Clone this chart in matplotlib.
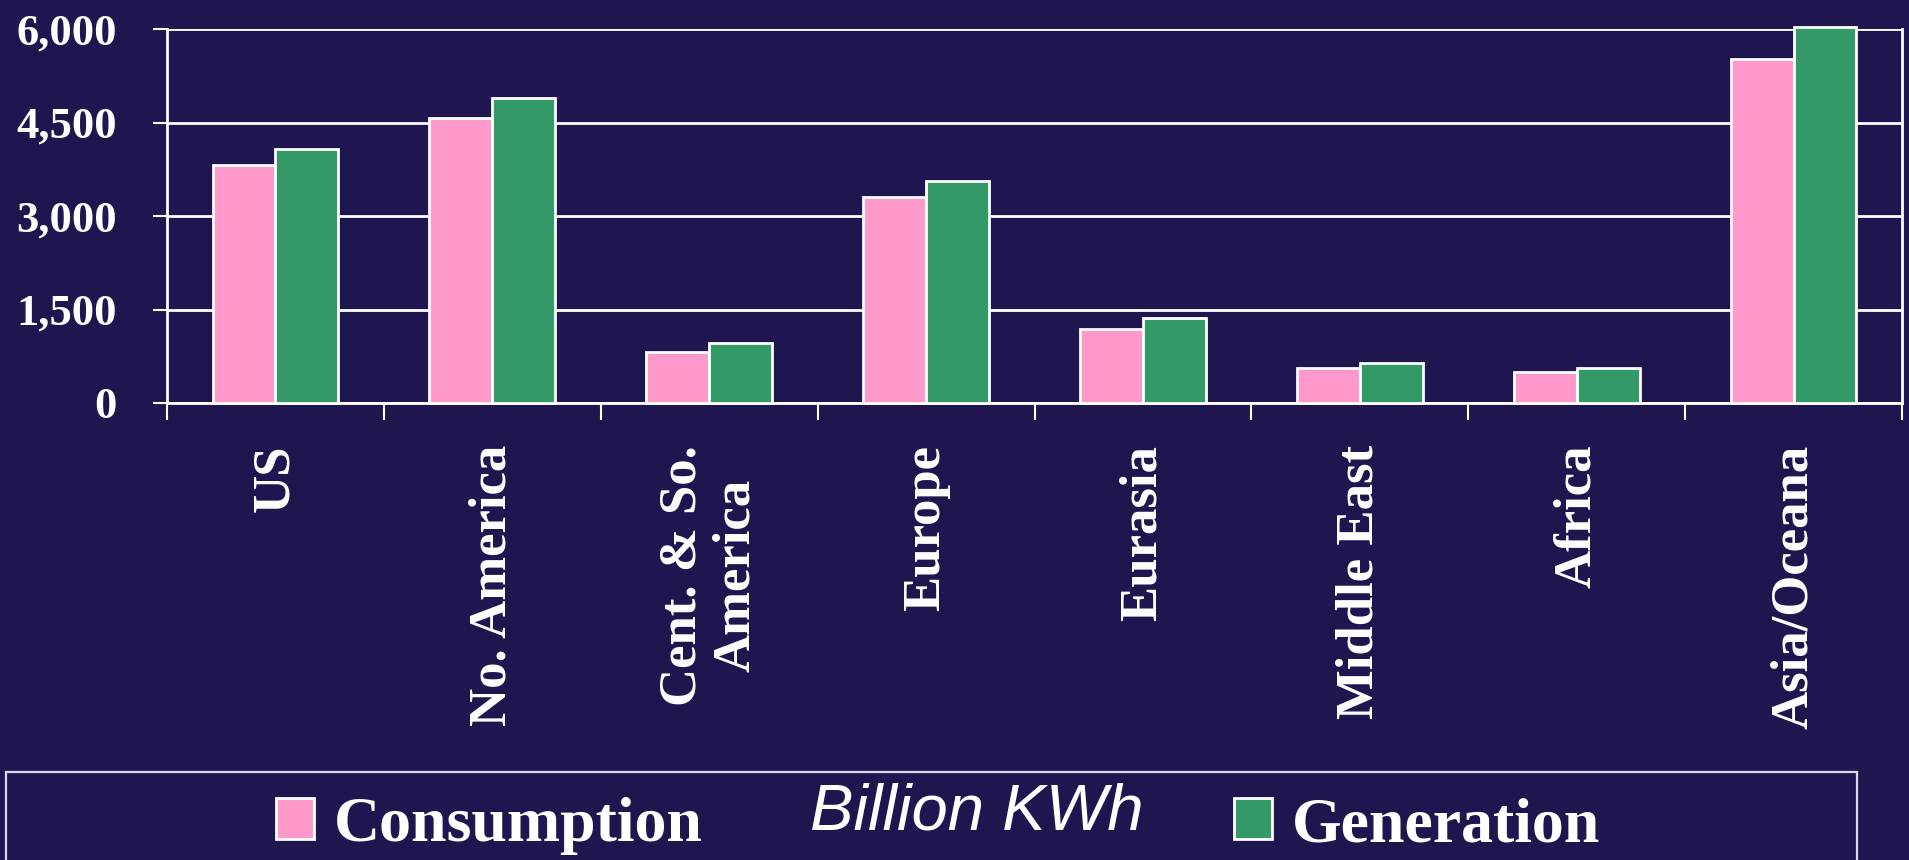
import matplotlib
matplotlib.use("Agg")
import matplotlib.pyplot as plt
import numpy as np
from matplotlib.patches import Rectangle, Patch

# ---- data ----
regions = ["US", "No. America", "Cent. & So.\nAmerica", "Europe", "Eurasia",
           "Middle East", "Africa", "Asia/Oceana"]
consumption = [3820, 4570, 815, 3300, 1180, 565, 490, 5520]
generation = [4075, 4900, 960, 3555, 1370, 645, 565, 6035]
yticks = [0, 1500, 3000, 4500, 6000]
ytick_labels = ["0", "1,500", "3,000", "4,500", "6,000"]
series_names = ["Consumption", "Generation"]
unit_label = "Billion KWh"

BG = "#1F1650"
PINK = "#FF99CC"
GREEN = "#339966"
W, H = 1909, 860

fig = plt.figure(figsize=(W / 100, H / 100), dpi=100, facecolor=BG)
ax = fig.add_axes([167 / W, 1 - 403 / H, (1902 - 167) / W, (403 - 29) / H])
ax.set_facecolor(BG)

x = np.arange(len(regions))
bw = 0.29
ax.bar(x - bw / 2, consumption, bw, color=PINK, edgecolor="white", linewidth=2,
       zorder=3, clip_on=False)
ax.bar(x + bw / 2, generation, bw, color=GREEN, edgecolor="white", linewidth=2,
       zorder=3, clip_on=False)

ax.set_xlim(-0.5, len(regions) - 0.5)
ax.set_ylim(0, 6000)

ax.set_yticks(yticks)
ax.set_yticklabels(ytick_labels, fontfamily="Liberation Serif", fontweight="bold",
                   fontsize=32, color="white")
ax.tick_params(axis="y", length=10, width=1.5, color="white", pad=26)
ax.yaxis.grid(True, color="white", linewidth=2, zorder=1)
ax.set_axisbelow(True)

ax.set_xticks(x)
ax.set_xticklabels(regions, rotation=90, fontfamily="Liberation Serif",
                   fontweight="bold", fontsize=38, color="white",
                   va="top", ha="center", multialignment="center",
                   linespacing=1.15)
ax.tick_params(axis="x", which="major", length=0, pad=30)
ax.set_xticks(np.arange(len(regions) + 1) - 0.5, minor=True)
ax.tick_params(axis="x", which="minor", length=12, width=1.5, color="white")

for side in ["left", "right", "bottom"]:
    ax.spines[side].set_color("white")
    ax.spines[side].set_linewidth(2)
ax.spines["top"].set_visible(False)

# ---- legend box ----
fig.patches.append(Rectangle((6 / W, -0.1), (1857 - 6) / W, 0.1 + 1 - 772 / H,
                             transform=fig.transFigure, facecolor=BG,
                             edgecolor="#D8D8E8", linewidth=1.6, zorder=0))

leg_y = 1 - 826 / H
lfont = dict(family="Liberation Serif", weight="bold", size=46)
l1 = fig.legend(handles=[Patch(facecolor=PINK, edgecolor="white", linewidth=2)],
                labels=[series_names[0]], loc="center left",
                bbox_to_anchor=(276 / W, leg_y), frameon=False, prop=lfont,
                handlelength=0.6, handleheight=0.6, handletextpad=0.3,
                borderpad=0, borderaxespad=0, labelcolor="white")
l2 = fig.legend(handles=[Patch(facecolor=GREEN, edgecolor="white", linewidth=2)],
                labels=[series_names[1]], loc="center left",
                bbox_to_anchor=(1234 / W, leg_y), frameon=False, prop=lfont,
                handlelength=0.6, handleheight=0.6, handletextpad=0.3,
                borderpad=0, borderaxespad=0, labelcolor="white")

fig.text(810 / W, 1 - 830 / H, unit_label, family="Liberation Sans",
         style="italic", fontsize=47, color="white", va="baseline", ha="left")

fig.savefig("out.png", dpi=100, facecolor=BG)
